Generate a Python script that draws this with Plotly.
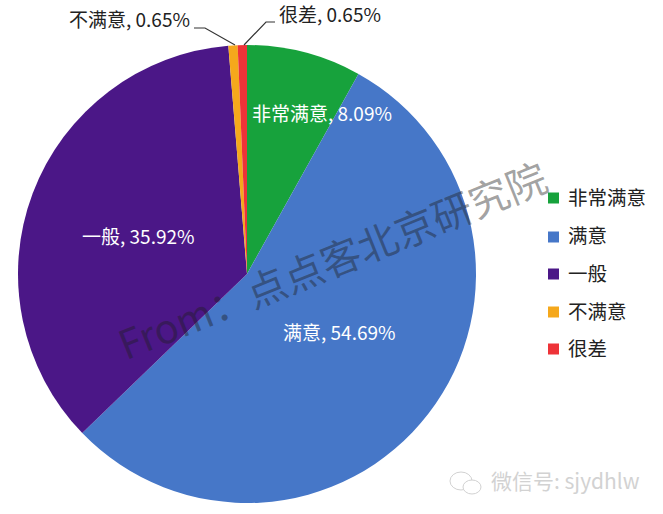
import plotly.graph_objects as go

W, H = 663, 514
categories = ["非常满意", "满意", "一般", "不满意", "很差"]
values = [8.09, 54.69, 35.92, 0.65, 0.65]
colors = ["#17A23C", "#4677C8", "#4B1787", "#F5A81C", "#EE3338"]
label_pos = [(322, 112), (340, 331), (138, 236), (129, 19), (330, 13)]
label_col = ["white", "white", "white", "#222222", "#222222"]
legend_y = [198, 237, 274, 312, 349]
FONT = "Noto Sans CJK SC"

fig = go.Figure(go.Pie(
    labels=categories, values=values, sort=False, direction="clockwise", rotation=0,
    marker=dict(colors=colors, line=dict(width=0)), textinfo="none", hoverinfo="label+percent",
    domain=dict(x=[18/W, 476/W], y=[1-503/H, 1-45/H]),
))

def px(x): return x / W
def py(y): return 1 - y / H

ann = []
for c, v, (x, y), col in zip(categories, values, label_pos, label_col):
    ann.append(dict(x=px(x), y=py(y), xref="paper", yref="paper", showarrow=False,
                    text=f"{c}, {v:.2f}%", font=dict(family=FONT, size=19, color=col),
                    xanchor="center", yanchor="middle"))
ann.append(dict(x=px(332), y=py(259), xref="paper", yref="paper", showarrow=False,
                text="From：点点客北京研究院", textangle=-22, xanchor="center", yanchor="middle",
                font=dict(family=FONT, size=40, color="rgba(30,30,30,0.42)")))
ann.append(dict(x=px(565), y=py(480), xref="paper", yref="paper", showarrow=False,
                text="微信号: sjydhlw", xanchor="center", yanchor="middle",
                font=dict(family=FONT, size=21, color="#d2d2d2")))

leaders = [[(194, 28), (205, 28), (235, 45)], [(275, 22), (266, 22), (244, 45)]]
shapes = []
for pts in leaders:
    path = "M " + " L ".join(f"{px(x)} {py(y)}" for x, y in pts)
    shapes.append(dict(type="path", xref="paper", yref="paper", path=path,
                       line=dict(color="#333333", width=1.2)))

# legend keys and names
for c, col, y in zip(categories, colors, legend_y):
    shapes.append(dict(type="rect", xref="paper", yref="paper",
                       x0=px(548), x1=px(559), y0=py(y+5.5), y1=py(y-5.5),
                       fillcolor=col, line=dict(width=0)))
    ann.append(dict(x=px(566), y=py(y-2), xref="paper", yref="paper", showarrow=False,
                    text=c, xanchor="left", yanchor="middle",
                    font=dict(family=FONT, size=19.5, color="#222222")))

# faint WeChat mark
for x0, x1, y0, y1 in [(450, 472, 472, 490), (463, 481, 480, 494)]:
    shapes.append(dict(type="circle", xref="paper", yref="paper",
                       x0=px(x0), x1=px(x1), y0=py(y1), y1=py(y0),
                       fillcolor="white", line=dict(color="#d2d2d2", width=1)))

fig.update_layout(
    width=W, height=H, margin=dict(l=0, r=0, t=0, b=0),
    paper_bgcolor="white", showlegend=False,
    annotations=ann, shapes=shapes,
)
fig.write_html("out.html", config=dict(displayModeBar=False),
               post_script="document.body.style.margin='0';window.dispatchEvent(new Event('resize'));")
